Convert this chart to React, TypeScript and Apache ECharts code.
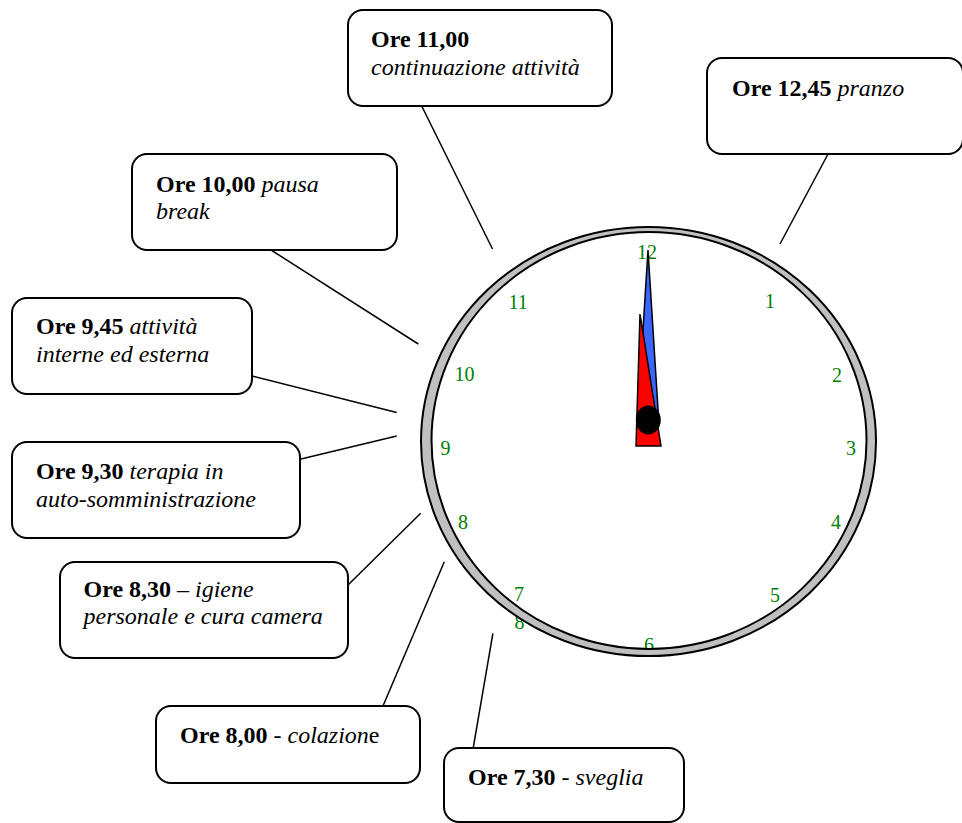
import React, { useEffect, useRef } from "react";
import * as echarts from "echarts";

const FONT = '"Liberation Serif", "Times New Roman", Times, serif';

// ---- content ----
const hourLabels = ["12", "1", "2", "3", "4", "5", "6", "7", "8", "9", "10", "11", "8"];

type Seg = [string, string];
const calloutA: Seg[][] = [[["b", "Ore 11,00"]], [["i", "continuazione attività"]]];
const calloutB: Seg[][] = [[["b", "Ore 12,45"], ["r", " "], ["i", "pranzo"]]];
const calloutC: Seg[][] = [[["b", "Ore 10,00"], ["r", " "], ["i", "pausa"]], [["i", "break"]]];
const calloutD: Seg[][] = [[["b", "Ore 9,45"], ["r", " "], ["i", "attività"]], [["i", "interne ed esterna"]]];
const calloutE: Seg[][] = [[["b", "Ore 9,30"], ["r", " "], ["i", "terapia in"]], [["i", "auto-somministrazione"]]];
const calloutF: Seg[][] = [[["b", "Ore 8,30"], ["r", " – "], ["i", "igiene"]], [["i", "personale e cura camera"]]];
const calloutG: Seg[][] = [[["b", "Ore 8,00"], ["r", " - "], ["i", "colazion"], ["r", "e"]]];
const calloutH: Seg[][] = [[["b", "Ore 7,30"], ["r", " - "], ["i", "sveglia"]]];
const callouts = [calloutA, calloutB, calloutC, calloutD, calloutE, calloutF, calloutG, calloutH];

// ---- layout (pixels) ----
const hourLabelPos = [
  [647, 252], [770, 301], [837, 375], [851, 448], [836, 522], [775, 595], [649, 645],
  [519, 594], [463, 521.5], [445.5, 448], [464.5, 374], [518, 302], [519.5, 621.5],
];
// box: x, y, w, h ; text x, first baseline
const boxLayout = [
  [348, 10, 264, 96, 371, 47],
  [707, 58, 256, 96, 732, 96],
  [132, 154, 265, 96, 156, 191.5],
  [12, 298, 240, 96, 36, 334.3],
  [12, 442, 288, 96, 36, 479],
  [60, 562, 288, 96, 83.5, 596.7],
  [156, 706, 264, 77, 180, 743],
  [444, 748, 240, 74, 468, 785],
];
const connectorLines = [
  [421.7, 106, 492.5, 249],
  [827.5, 155, 780, 244],
  [271, 250, 418.3, 344],
  [252, 376, 396.7, 412.5],
  [300, 459.3, 396.7, 436],
  [348, 585, 420.7, 513.3],
  [383, 706, 444.3, 561.7],
  [473.2, 748, 492.9, 633.3],
];
const outerRing = [648.5, 441.5, 227.5, 214.5];
const innerRing = [649, 440.5, 217.5, 208.5];
const minuteHand = [[648, 250], [659, 425], [637, 425]];
const hourHand = [[636, 446], [661, 446], [640, 314]];
const hubCircle = [648.3, 420, 12.5, 14.5];

const LINE_GAP = 27.5;
const BASE_OFF = 8;

function ringPath() {
  const [cx, cy, rx, ry] = outerRing;
  const [icx, icy, irx, iry] = innerRing;
  return (
    `M${cx - rx} ${cy}A${rx} ${ry} 0 1 1 ${cx + rx} ${cy}A${rx} ${ry} 0 1 1 ${cx - rx} ${cy}Z` +
    `M${icx - irx} ${icy}A${irx} ${iry} 0 1 0 ${icx + irx} ${icy}A${irx} ${iry} 0 1 0 ${icx - irx} ${icy}Z`
  );
}

let registered = false;

export default function App() {
  const ref = useRef<HTMLDivElement>(null);
  useEffect(() => {
    if (!ref.current) return;
    if (!registered) {
      echarts.graphic.registerShape("clockRing", echarts.graphic.extendPath(ringPath(), {}) as any);
      registered = true;
    }
    const chart = echarts.init(ref.current, undefined, { renderer: "svg" });
    const elements: any[] = [];

    hourLabels.forEach((t, i) => {
      elements.push({
        type: "text",
        x: hourLabelPos[i][0],
        y: hourLabelPos[i][1],
        style: {
          text: t,
          fill: "#008000",
          font: `20px ${FONT}`,
          align: "center",
          verticalAlign: "middle",
        },
      });
    });

    elements.push({
      type: "clockRing",
      x: 0,
      y: 0,
      style: { fill: "#c0c0c0", stroke: "#000", lineWidth: 2 },
    });

    elements.push({
      type: "polygon",
      shape: { points: minuteHand },
      style: { fill: "#3a66ff", stroke: "#000", lineWidth: 1.5 },
    });
    elements.push({
      type: "polygon",
      shape: { points: hourHand },
      style: { fill: "#ff0000", stroke: "#000", lineWidth: 1.5 },
    });
    elements.push({
      type: "ellipse",
      shape: { cx: hubCircle[0], cy: hubCircle[1], rx: hubCircle[2], ry: hubCircle[3] },
      style: { fill: "#000" },
    });

    connectorLines.forEach((l) => {
      elements.push({
        type: "line",
        shape: { x1: l[0], y1: l[1], x2: l[2], y2: l[3] },
        style: { stroke: "#000", lineWidth: 1.5 },
      });
    });

    const rich = {
      b: { fontFamily: FONT, fontSize: 24, fontWeight: "bold", fill: "#000" },
      i: { fontFamily: FONT, fontSize: 24, fontStyle: "italic", fill: "#000" },
      r: { fontFamily: FONT, fontSize: 24, fill: "#000" },
    };

    callouts.forEach((lines, k) => {
      const [bx, by, bw, bh, tx, tb] = boxLayout[k];
      elements.push({
        type: "rect",
        shape: { x: bx, y: by, width: bw, height: bh, r: 15 },
        style: { fill: "#fff", stroke: "#000", lineWidth: 2 },
      });
      lines.forEach((segs, li) => {
        const text = segs.map(([s, t]) => `{${s}|${t}}`).join("");
        elements.push({
          type: "text",
          x: tx,
          y: tb + li * LINE_GAP - BASE_OFF,
          style: {
            text,
            rich,
            font: `24px ${FONT}`,
            fill: "#000",
            align: "left",
            verticalAlign: "middle",
          },
        });
      });
    });

    chart.setOption({ animation: false, graphic: { elements } });
    return () => chart.dispose();
  }, []);
  return (
    <div
      ref={ref}
      style={{ position: "absolute", left: 0, top: 0, width: 962, height: 823, background: "#fff" }}
    />
  );
}
